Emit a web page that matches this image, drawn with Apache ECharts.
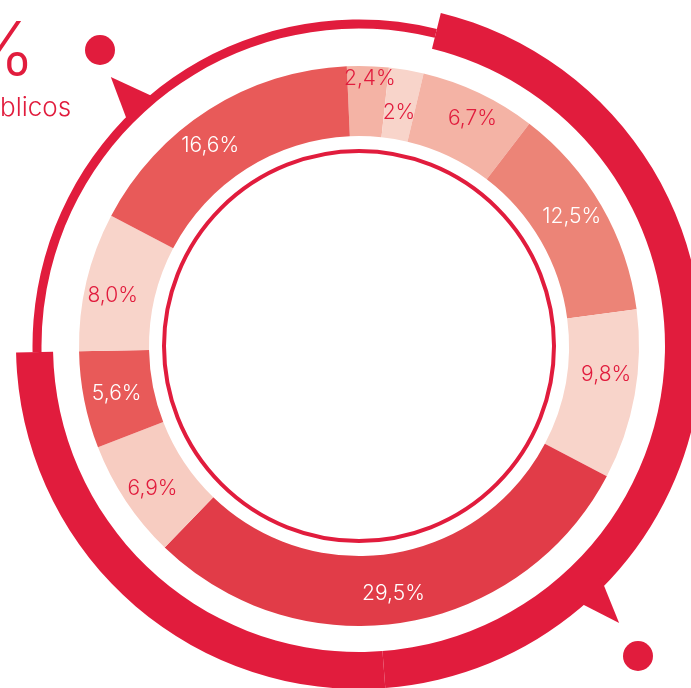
<!DOCTYPE html>
<html>
<head>
<meta charset="utf-8">
<script src="https://cdn.jsdelivr.net/npm/echarts@6/dist/echarts.min.js"></script>
<style>
  html, body { margin: 0; padding: 0; background: #ffffff; }
  #chart { width: 691px; height: 688px; }
</style>
</head>
<body>
<div id="chart"></div>
<script>
// Shares of each segment (percent), drawn clockwise from the top
const values = [2.4, 2, 6.7, 12.5, 9.8, 29.5, 6.9, 5.6, 8.0, 16.6];
const labels = ['2,4%', '2%', '6,7%', '12,5%', '9,8%', '29,5%', '6,9%', '5,6%', '8,0%', '16,6%'];
const segmentColors = ['#f4b3a5', '#f8d4ca', '#f4b3a5', '#ec8477', '#f8d4ca',
                       '#e13c48', '#f7ccc1', '#e85a59', '#f8d4ca', '#e85a59'];
const labelColors = ['#e11c3d', '#e11c3d', '#e11c3d', '#ffffff', '#e11c3d',
                     '#ffffff', '#e11c3d', '#ffffff', '#e11c3d', '#ffffff'];
// small nudges so the labels of thin slices do not collide
const labelNudges = [[3, -19], [-2, 11], [7, -3], [-2, -5], [3, -15],
                     [-5, 3], [0, 5], [1, 0], [-5, 7], [-16, 9]];

const RED = '#e11c3d';
const CX = 359, CY = 346;
const rad = d => d * Math.PI / 180;
const polar = (deg, r) => [CX + r * Math.cos(rad(deg)), CY + r * Math.sin(rad(deg))];

const chart = echarts.init(document.getElementById('chart'), null, { renderer: 'canvas' });

const graphic = [
  // thick outer band, right side and bottom
  { type: 'sector', silent: true, shape: { cx: CX, cy: CY, r0: 306, r: 343, startAngle: rad(-76.2), endAngle: rad(85.6), clockwise: true }, style: { fill: RED } },
  // thick outer band, bottom to left
  { type: 'sector', silent: true, shape: { cx: CX, cy: CY, r0: 306, r: 343, startAngle: rad(85.6), endAngle: rad(178.9), clockwise: true }, style: { fill: RED } },
  // thin band over the top-left
  { type: 'sector', silent: true, shape: { cx: CX, cy: CY, r0: 317.5, r: 326.5, startAngle: rad(178.9), endAngle: rad(283.8), clockwise: true }, style: { fill: RED } },
  // pointers on the outer band
  { type: 'polygon', silent: true, shape: { points: [polar(227.3, 366), polar(230.6, 322), polar(224.1, 322)] }, style: { fill: RED } },
  { type: 'polygon', silent: true, shape: { points: [polar(46.8, 380), polar(43.8, 335), polar(49.6, 335)] }, style: { fill: RED } },
  // dots
  { type: 'circle', silent: true, shape: { cx: 100, cy: 50, r: 15 }, style: { fill: RED } },
  { type: 'circle', silent: true, shape: { cx: 638, cy: 656, r: 15 }, style: { fill: RED } },
  // inner thin ring
  { type: 'circle', silent: true, shape: { cx: CX, cy: CY, r: 195 }, style: { fill: 'none', stroke: RED, lineWidth: 4 } },
  // heading text
  { type: 'text', silent: true, x: 35, y: 53, style: { text: '%', fill: RED, font: '300 74px Inter, "Noto Sans", sans-serif', align: 'right', verticalAlign: 'middle' } },
  { type: 'text', silent: true, x: 0, y: 108, style: { text: 'blicos', fill: RED, font: '300 26px Inter, "Noto Sans", sans-serif', align: 'left', verticalAlign: 'middle' } }
];

chart.setOption({
  animation: false,
  graphic: graphic,
  series: [{
    type: 'pie',
    silent: true,
    center: [CX, CY],
    radius: [210, 280],
    startAngle: 92.5,
    clockwise: true,
    avoidLabelOverlap: false,
    labelLine: { show: false },
    label: {
      show: true,
      position: 'inside',
      fontFamily: 'Inter, "Noto Sans", sans-serif',
      fontWeight: 300,
      fontSize: 21,
      formatter: p => labels[p.dataIndex]
    },
    labelLayout: p => ({ dx: labelNudges[p.dataIndex][0], dy: labelNudges[p.dataIndex][1] }),
    data: values.map((v, i) => ({
      value: v,
      name: labels[i],
      itemStyle: { color: segmentColors[i], borderWidth: 0 },
      label: { color: labelColors[i] }
    }))
  }]
});
</script>
</body>
</html>
